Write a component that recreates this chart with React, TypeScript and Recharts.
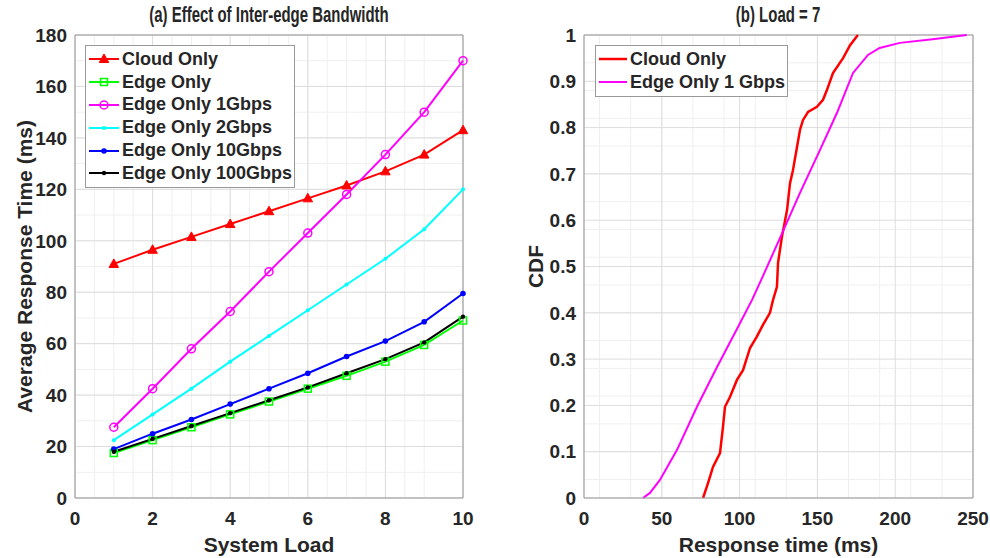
import { CartesianGrid, Legend, Line, LineChart, ReferenceLine, XAxis, YAxis } from 'recharts'

// (a) average response time vs system load
const loads = [1, 2, 3, 4, 5, 6, 7, 8, 9, 10]
const cloudOnly = [91, 96.5, 101.5, 106.5, 111.5, 116.5, 121.5, 127, 133.5, 143]
const edgeOnly = [17.5, 22.5, 27.5, 32.5, 37.5, 42.5, 47.5, 53, 59.5, 69]
const edge1G = [27.5, 42.5, 58, 72.5, 88, 103, 118, 133.5, 150, 170]
const edge2G = [22.5, 32.5, 42.5, 53, 63, 73, 83, 93, 104.5, 120]
const edge10G = [19, 25, 30.5, 36.5, 42.5, 48.5, 55, 61, 68.5, 79.5]
const edge100G = [18, 23, 28, 33, 38, 43, 48.5, 54, 60.5, 70.5]

const loadTicks = [0, 2, 4, 6, 8, 10]
const timeTicks = [0, 20, 40, 60, 80, 100, 120, 140, 160, 180]

// (b) CDF at load = 7
const cloudCdfTime = [76.5, 79.7, 82.9, 87.4, 89.3, 90.6, 93.8, 98.3, 102.2, 106.7, 111, 115, 119.5, 121.5, 124, 124.7, 127.2, 130.5, 132.4, 134.3, 136.9, 138.8, 140.7, 144, 149.7, 153.6, 156, 160, 166.5, 171, 176]
const cloudCdfProb = [0, 0.032, 0.067, 0.097, 0.153, 0.197, 0.218, 0.255, 0.276, 0.324, 0.348, 0.374, 0.4, 0.428, 0.456, 0.508, 0.564, 0.622, 0.68, 0.708, 0.758, 0.795, 0.816, 0.834, 0.845, 0.86, 0.88, 0.918, 0.95, 0.978, 1]
const edgeCdfTime = [37.9, 42.4, 48.8, 59.8, 72.6, 85.5, 98.3, 108, 114.4, 126, 138.8, 151.7, 162.6, 172.9, 182.5, 190, 203, 224, 246]
const edgeCdfProb = [0, 0.011, 0.039, 0.104, 0.197, 0.283, 0.365, 0.428, 0.475, 0.562, 0.659, 0.752, 0.832, 0.918, 0.957, 0.972, 0.983, 0.991, 1]

const rtTicks = [0, 50, 100, 150, 200, 250]
const cdfTicks = [0, 0.1, 0.2, 0.3, 0.4, 0.5, 0.6, 0.7, 0.8, 0.9, 1]

const FONT = "'Liberation Sans', Arial, sans-serif"
const TEXT = '#262626'
const AXIS = '#999999'
const MINOR = '#efefef'
const MAJOR = '#dddddd'

const minorLoad = Array.from({ length: 21 }, (_, i) => i * 0.5)
const minorTime = Array.from({ length: 37 }, (_, i) => i * 5)
const minorRt = Array.from({ length: 26 }, (_, i) => i * 10)
const minorCdf = Array.from({ length: 51 }, (_, i) => i * 0.02)

type MarkerKind = 'triangle' | 'square' | 'circle' | 'dot' | 'none'

interface SeriesStyle {
  key: string
  name: string
  color: string
  marker: MarkerKind
  size: number
  width: number
}

const leftSeries: SeriesStyle[] = [
  { key: 'cloud', name: 'Cloud Only', color: '#ff0000', marker: 'triangle', size: 5, width: 2 },
  { key: 'edge', name: 'Edge Only', color: '#00ff00', marker: 'square', size: 3.5, width: 2 },
  { key: 'g1', name: 'Edge Only 1Gbps', color: '#ff00ff', marker: 'circle', size: 4, width: 2 },
  { key: 'g2', name: 'Edge Only 2Gbps', color: '#00ffff', marker: 'dot', size: 2, width: 2 },
  { key: 'g10', name: 'Edge Only 10Gbps', color: '#0000ff', marker: 'dot', size: 2.8, width: 2 },
  { key: 'g100', name: 'Edge Only 100Gbps', color: '#000000', marker: 'dot', size: 2.2, width: 2 },
]

const rightSeries: SeriesStyle[] = [
  { key: 'cloud', name: 'Cloud Only', color: '#ff0000', marker: 'none', size: 0, width: 2.5 },
  { key: 'edge', name: 'Edge Only 1 Gbps', color: '#ff00ff', marker: 'none', size: 0, width: 2 },
]

const loadData = loads.map((load, i) => ({
  load,
  cloud: cloudOnly[i],
  edge: edgeOnly[i],
  g1: edge1G[i],
  g2: edge2G[i],
  g10: edge10G[i],
  g100: edge100G[i],
}))

const cloudCdf = cloudCdfTime.map((t, i) => ({ t, p: cloudCdfProb[i] }))
const edgeCdf = edgeCdfTime.map((t, i) => ({ t, p: edgeCdfProb[i] }))

function Marker({ kind, cx, cy, color, size }: { kind: MarkerKind; cx: number; cy: number; color: string; size: number }) {
  if (kind === 'triangle') {
    return (
      <path
        d={`M${cx},${cy - size} L${cx + size * 0.95},${cy + size * 0.7} L${cx - size * 0.95},${cy + size * 0.7} Z`}
        fill={color}
        stroke={color}
      />
    )
  }
  if (kind === 'square') {
    return <rect x={cx - size} y={cy - size} width={size * 2} height={size * 2} fill="none" stroke={color} strokeWidth={1.5} />
  }
  if (kind === 'circle') {
    return <circle cx={cx} cy={cy} r={size} fill="none" stroke={color} strokeWidth={1.5} />
  }
  if (kind === 'dot') {
    return <circle cx={cx} cy={cy} r={size} fill={color} />
  }
  return null
}

function LegendBox({ items, width, iconWidth }: { items: SeriesStyle[]; width: number; iconWidth: number }) {
  return (
    <div
      style={{
        background: '#fff',
        border: `1px solid ${AXIS}`,
        width,
        padding: '2px 0',
        fontFamily: FONT,
        fontWeight: 'bold',
        fontSize: 18,
        color: TEXT,
        boxSizing: 'border-box',
      }}
    >
      {items.map((it) => (
        <div key={it.key} style={{ display: 'flex', alignItems: 'center', height: 22.8, whiteSpace: 'nowrap' }}>
          <svg width={iconWidth} height={20} style={{ flex: 'none' }}>
            <line x1={3} x2={iconWidth - 3} y1={10} y2={10} stroke={it.color} strokeWidth={it.width} />
            <Marker kind={it.marker} cx={iconWidth / 2} cy={10} color={it.color} size={it.size} />
          </svg>
          <span>{it.name}</span>
        </div>
      ))}
    </div>
  )
}

const tickStyle = { fontFamily: FONT, fontWeight: 'bold', fontSize: 19, fill: TEXT }

function yTitle(text: string, x: number) {
  return (props: any) => {
    const vb = props.viewBox
    const cy = vb.y + vb.height / 2
    return (
      <text
        x={x}
        y={cy}
        transform={`rotate(-90 ${x} ${cy})`}
        textAnchor="middle"
        dominantBaseline="central"
        fontFamily={FONT}
        fontWeight="bold"
        fontSize={21}
        fill={TEXT}
      >
        {text}
      </text>
    )
  }
}

const titleStyle = {
  position: 'absolute' as const,
  top: 2,
  textAlign: 'center' as const,
  fontFamily: FONT,
  fontWeight: 'bold' as const,
  fontSize: 22,
  color: TEXT,
  whiteSpace: 'nowrap' as const,
}

function Title({ text, left, width }: { text: string; left: number; width: number }) {
  return (
    <div style={{ ...titleStyle, left, width }}>
      <span style={{ display: 'inline-block', transform: 'scaleX(0.68)', transformOrigin: 'center' }}>{text}</span>
    </div>
  )
}

export default function App() {
  return (
    <div style={{ position: 'absolute', top: 0, left: 0, width: 990, height: 558, background: '#fff', overflow: 'hidden' }}>
      <Title text="(a) Effect of Inter-edge Bandwidth" left={75} width={388} />
      <Title text="(b) Load = 7" left={584} width={389} />

      <div style={{ position: 'absolute', top: 0, left: 0 }}>
        <LineChart width={480} height={558} data={loadData} margin={{ top: 35, right: 17, bottom: 0, left: 0 }}>
          <CartesianGrid stroke={MINOR} verticalValues={minorLoad} horizontalValues={minorTime} />
          <CartesianGrid stroke={MAJOR} verticalValues={loadTicks} horizontalValues={timeTicks} />
          <XAxis
            dataKey="load"
            type="number"
            domain={[0, 10]}
            ticks={loadTicks}
            tick={tickStyle}
            tickLine={false}
            tickMargin={8}
            stroke={AXIS}
            height={60}
            label={{ value: 'System Load', position: 'insideBottom', offset: 6, fill: TEXT, fontSize: 21, fontWeight: 'bold', fontFamily: FONT }}
          />
          <YAxis
            type="number"
            domain={[0, 180]}
            ticks={timeTicks}
            tick={tickStyle}
            tickLine={false}
            stroke={AXIS}
            width={75}
            label={yTitle('Average Response Time (ms)', 24)}
          />
          <ReferenceLine y={180} stroke={AXIS} />
          <ReferenceLine x={10} stroke={AXIS} />
          {leftSeries.map((s) => (
            <Line
              key={s.key}
              dataKey={s.key}
              name={s.name}
              stroke={s.color}
              strokeWidth={s.width}
              isAnimationActive={false}
              dot={(p: any) => <Marker key={`${s.key}-${p.index}`} kind={s.marker} cx={p.cx} cy={p.cy} color={s.color} size={s.size} />}
              activeDot={false}
            />
          ))}
          <Legend
            layout="horizontal"
            verticalAlign="middle"
            align="center"
            wrapperStyle={{ top: 45, left: 85, width: 210, height: 'auto' }}
            content={() => <LegendBox items={leftSeries} width={210} iconWidth={36} />}
          />
        </LineChart>
      </div>

      <div style={{ position: 'absolute', top: 0, left: 490 }}>
        <LineChart width={500} height={558} margin={{ top: 35, right: 17, bottom: 0, left: 0 }}>
          <CartesianGrid stroke={MINOR} verticalValues={minorRt} horizontalValues={minorCdf} />
          <CartesianGrid stroke={MAJOR} verticalValues={rtTicks} horizontalValues={cdfTicks} />
          <XAxis
            dataKey="t"
            type="number"
            domain={[0, 250]}
            ticks={rtTicks}
            tick={tickStyle}
            tickLine={false}
            tickMargin={8}
            stroke={AXIS}
            height={60}
            allowDuplicatedCategory={false}
            label={{ value: 'Response time (ms)', position: 'insideBottom', offset: 6, fill: TEXT, fontSize: 21, fontWeight: 'bold', fontFamily: FONT }}
          />
          <YAxis
            type="number"
            domain={[0, 1]}
            ticks={cdfTicks}
            tick={tickStyle}
            tickLine={false}
            stroke={AXIS}
            width={94}
            label={yTitle('CDF', 45)}
          />
          <ReferenceLine y={1} stroke={AXIS} />
          <ReferenceLine x={250} stroke={AXIS} />
          <Line
            data={cloudCdf}
            dataKey="p"
            name={rightSeries[0].name}
            stroke={rightSeries[0].color}
            strokeWidth={rightSeries[0].width}
            dot={false}
            activeDot={false}
            isAnimationActive={false}
          />
          <Line
            data={edgeCdf}
            dataKey="p"
            name={rightSeries[1].name}
            stroke={rightSeries[1].color}
            strokeWidth={rightSeries[1].width}
            dot={false}
            activeDot={false}
            isAnimationActive={false}
          />
          <Legend
            layout="horizontal"
            verticalAlign="middle"
            align="center"
            wrapperStyle={{ top: 45, left: 105, width: 193, height: 'auto' }}
            content={() => <LegendBox items={rightSeries} width={193} iconWidth={34} />}
          />
        </LineChart>
      </div>
    </div>
  )
}
